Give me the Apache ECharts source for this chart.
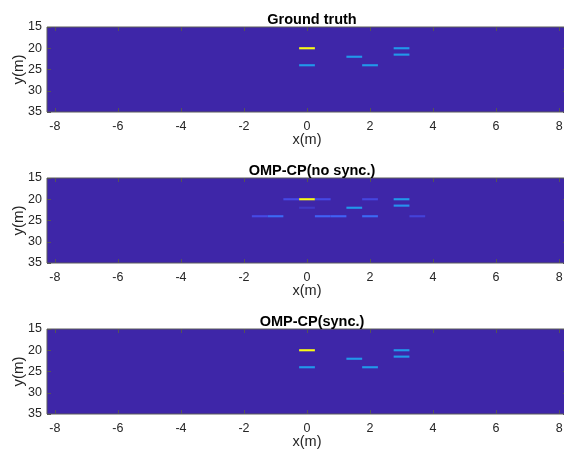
<!DOCTYPE html>
<html>
<head>
<meta charset="utf-8">
<script src="https://cdn.jsdelivr.net/npm/echarts@6/dist/echarts.min.js"></script>
<style>
html,body{margin:0;padding:0;background:#fff;}
#c{width:564px;height:451px;}
</style>
</head>
<body>
<div id="c"></div>
<script>
// ---- data ----
const titles = ['Ground truth', 'OMP-CP(no sync.)', 'OMP-CP(sync.)'];
const xTicks = [-8, -6, -4, -2, 0, 2, 4, 6, 8];
const yTicks = [15, 20, 25, 30, 35];
// cells: [x (m), y (m), normalised amplitude]
const groundTruth = [
  [0, 20, 1.0],
  [0, 24, 0.30],
  [1.5, 22, 0.30],
  [2, 24, 0.30],
  [3, 20, 0.30],
  [3, 21.5, 0.30]
];
const noSync = [
  [-0.5, 20, 0.10], [0, 20, 1.0], [0.5, 20, 0.10], [2, 20, 0.09], [3, 20, 0.30],
  [3, 21.5, 0.28],
  [0, 22, 0.05], [1.5, 22, 0.30],
  [-1.5, 24, 0.10], [-1, 24, 0.18], [0.5, 24, 0.16], [1, 24, 0.16], [2, 24, 0.18], [3.5, 24, 0.08]
];
const withSync = [
  [0, 20, 1.0],
  [0, 24, 0.30],
  [1.5, 22, 0.30],
  [2, 24, 0.30],
  [3, 20, 0.30],
  [3, 21.5, 0.30]
];
const cellW = 0.5, cellH = 0.5;
const parula = ['#3e26a8', '#4852f4', '#2d87f7', '#12b1d6', '#37c897', '#abc739', '#fec338', '#f5e02a', '#f9fb15'];

// ---- layout ----
const tops = [27, 178, 329];
const gridH = 85;
const txt = '#262626';
const font = 'Liberation Sans, Arial, sans-serif';

const grids = [], xAxes = [], yAxes = [], series = [], titleArr = [];
const datasets = [groundTruth, noSync, withSync];
const tickStyle = {show: true, inside: true, length: 4, lineStyle: {color: '#555'}};
tops.forEach((t, i) => {
  grids.push({left: 47, top: t, width: 520, height: gridH, show: true,
    outerBoundsMode: 'none', containLabel: false,
    backgroundColor: parula[0], borderColor: '#5a5a5a', borderWidth: 1});
  titleArr.push({text: titles[i], left: 307, top: t - 20, textAlign: 'center',
    textStyle: {fontFamily: font, fontSize: 14.5, fontWeight: 'bold', color: '#000'}});
  xAxes.push({type: 'value', gridIndex: i, min: -8.25, max: 8.25, position: 'bottom',
    name: 'x(m)', nameLocation: 'middle', nameGap: 20, nameMoveOverlap: false,
    nameTextStyle: {fontFamily: font, fontSize: 14.5, color: txt},
    axisLine: {show: false, onZero: false}, splitLine: {show: false},
    axisTick: Object.assign({customValues: xTicks}, tickStyle),
    axisLabel: {customValues: xTicks, margin: 8, fontFamily: font, fontSize: 12.5, color: txt}});
  xAxes.push({type: 'value', gridIndex: i, min: -8.25, max: 8.25, position: 'top',
    axisLine: {show: false, onZero: false}, splitLine: {show: false},
    axisTick: Object.assign({customValues: xTicks}, tickStyle),
    axisLabel: {show: false}});
  yAxes.push({type: 'value', gridIndex: i, min: 15, max: 35, inverse: true, position: 'left',
    name: 'y(m)', nameLocation: 'middle', nameGap: 21, nameMoveOverlap: false,
    nameTextStyle: {fontFamily: font, fontSize: 15, color: txt},
    axisLine: {show: false, onZero: false}, splitLine: {show: false},
    axisTick: Object.assign({customValues: yTicks}, tickStyle),
    axisLabel: {customValues: yTicks, margin: 5, fontFamily: font, fontSize: 12.5, color: txt}});
  yAxes.push({type: 'value', gridIndex: i, min: 15, max: 35, inverse: true, position: 'right',
    axisLine: {show: false, onZero: false}, splitLine: {show: false},
    axisTick: Object.assign({customValues: yTicks}, tickStyle),
    axisLabel: {show: false}});
  series.push({
    type: 'custom', xAxisIndex: 2 * i, yAxisIndex: 2 * i,
    data: datasets[i], encode: {x: 0, y: 1}, clip: true,
    renderItem: function (params, api) {
      const x = api.value(0), y = api.value(1);
      const p0 = api.coord([x - cellW / 2, y - cellH / 2]);
      const p1 = api.coord([x + cellW / 2, y + cellH / 2]);
      return {type: 'rect',
        shape: {x: Math.min(p0[0], p1[0]), y: Math.min(p0[1], p1[1]),
                width: Math.abs(p1[0] - p0[0]), height: Math.abs(p1[1] - p0[1])},
        style: {fill: api.visual('color')}};
    }
  });
});

const chart = echarts.init(document.getElementById('c'), null, {renderer: 'canvas'});
chart.setOption({
  animation: false,
  backgroundColor: '#fff',
  title: titleArr,
  grid: grids,
  xAxis: xAxes,
  yAxis: yAxes,
  visualMap: {show: false, type: 'continuous', min: 0, max: 1, dimension: 2,
    seriesIndex: [0, 1, 2], inRange: {color: parula}},
  series: series
});
</script>
</body>
</html>
